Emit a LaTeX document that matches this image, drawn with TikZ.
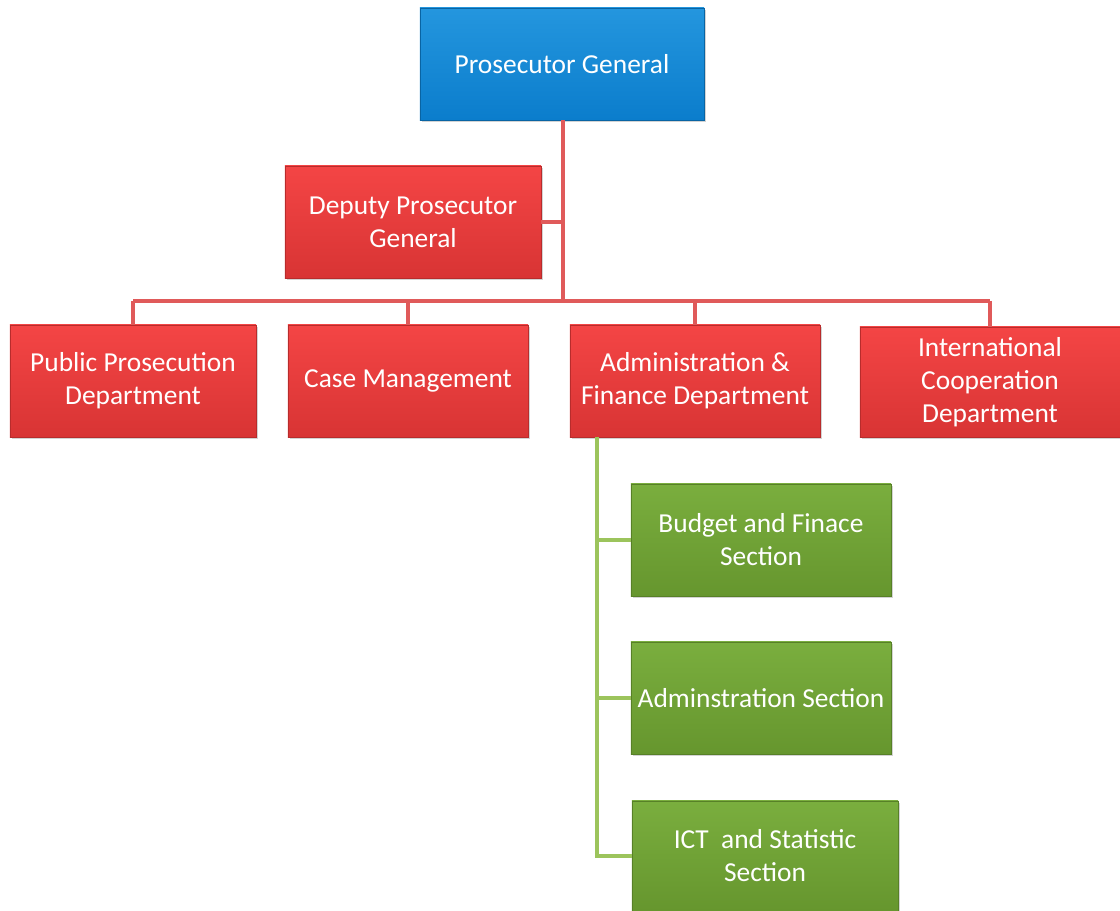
\documentclass[tikz,border=0pt]{standalone}
\usepackage{fontspec}
\setmainfont{Carlito}
\usepackage{tikz}
\usetikzlibrary{shadows}

\definecolor{pgblue}{HTML}{0B7DCC}
\definecolor{pgbluetop}{HTML}{2496DE}
\definecolor{pgred}{HTML}{D83434}
\definecolor{pgredtop}{HTML}{F44545}
\definecolor{pggreen}{HTML}{66962E}
\definecolor{pggreentop}{HTML}{7AAE3E}
\definecolor{redline}{HTML}{E05A5A}
\definecolor{greenline}{HTML}{9CC45C}

\begin{document}
\begin{tikzpicture}
				[x=0.025cm,y=-0.025cm,
				every node/.style={rectangle,text=white,align=center,
					font=\fontsize{19.5}{23.5}\selectfont,
					drop shadow={shadow xshift=1.2pt,shadow yshift=-1.2pt,opacity=.35}},
				bluebox/.style={top color=pgbluetop,bottom color=pgblue,draw=pgblue!80!black,
					minimum width=7.1cm,minimum height=2.8cm},
				redbox/.style={top color=pgredtop,bottom color=pgred,draw=pgred!85!black,
					minimum height=2.8cm},
				greenbox/.style={top color=pggreentop,bottom color=pggreen,draw=pggreen!85!black,
					minimum width=6.5cm,minimum height=2.8cm},
				redwire/.style={draw=redline,line width=2.8pt},
				greenwire/.style={draw=greenline,line width=2.8pt}]
				\useasboundingbox (0,0) rectangle (1120,911);
				
				\node[bluebox] (pg) at (562,64) {Prosecutor General};
				\node[redbox,minimum width=6.4cm] (dpg) at (413,222) {Deputy Prosecutor\\General};
				
				\node[redbox,minimum width=6.15cm] (pub) at (133,381) {Public Prosecution\\Department};
				\node[redbox,minimum width=6.0cm] (case) at (408,381) {Case Management};
				\node[redbox,minimum width=6.25cm] (adm) at (695,381) {Administration \&\\Finance Department};
				\node[redbox,minimum width=6.5cm,minimum height=2.75cm] (intl) at (990,382) {International\\Cooperation\\Department};
				
				\node[greenbox] (bud) at (761,540) {Budget and Finace\\Section};
				\node[greenbox] (admsec) at (761,698) {Adminstration Section};
				\node[greenbox,minimum width=6.65cm,minimum height=2.75cm] (ict) at (765,856) {ICT~ and Statistic\\Section};
				
				\coordinate (bus) at (563,301);
				\coordinate (gx) at (597,437);
				
				\draw[redwire] (pg.south -| bus) -- (bus);
				\draw[redwire] (dpg.east) -- (dpg.east -| bus);
				\draw[redwire] (bus -| pub) -- (bus -| intl);
				\foreach \n in {pub,case,adm,intl}
				\draw[redwire] (bus -| \n) -- (\n.north);
				\draw[greenwire] (gx) |- (ict.west);
				\foreach \n in {bud,admsec}
				\draw[greenwire] (gx |- \n.west) -- (\n.west);
				
\end{tikzpicture}
\end{document}
